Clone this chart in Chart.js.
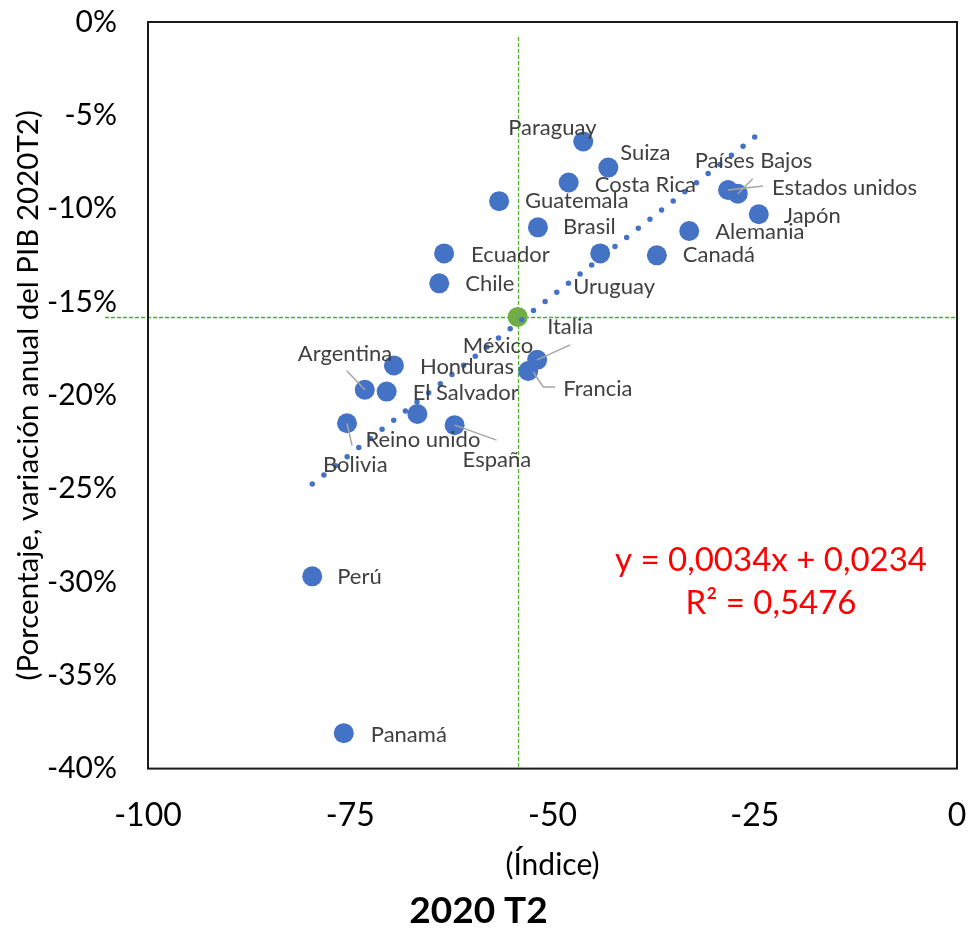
<!DOCTYPE html>
<html>
<head>
<meta charset="utf-8">
<script src="https://cdn.jsdelivr.net/npm/chart.js@4.4.1/dist/chart.umd.min.js"></script>
<style>
  html, body { margin: 0; padding: 0; background: #fff; }
  #wrap { width: 969px; height: 933px; }
</style>
</head>
<body>
<div id="wrap"><canvas id="chart" width="969" height="933"></canvas></div>
<script>
(function() {
    'use strict';

    // ===== Data =====
    const countries = ['Paraguay', 'Suiza', 'Costa Rica', 'Guatemala', 'Brasil', 'Países Bajos',
        'Estados unidos', 'Japón', 'Alemania', 'Canadá', 'Uruguay', 'Ecuador', 'Chile', 'México',
        'Italia', 'Francia', 'Honduras', 'Argentina', 'El Salvador', 'Reino unido', 'España',
        'Bolivia', 'Perú', 'Panamá'];
    const indexValues = [-46.2, -43.1, -48.0, -56.6, -51.8, -27.1, -28.3, -24.5, -33.1, -37.1, -44.1,
        -63.4, -64.0, -54.3, -51.9, -53.0, -69.6, -73.2, -70.5, -66.7, -62.1, -75.4, -79.7, -75.8];
    const gdpValues = [-6.4, -7.8, -8.6, -9.6, -11.0, -9.2, -9.0, -10.3, -11.2, -12.5, -12.4,
        -12.4, -14.0, -15.8, -18.1, -18.7, -18.4, -19.7, -19.8, -21.0, -21.6, -21.5, -29.7, -38.1];
    const xTicks = [-100, -75, -50, -25, 0];
    const yTicks = [0, -5, -10, -15, -20, -25, -30, -35, -40];
    const trendSlope = 0.0034;
    const trendIntercept = 0.0234;
    const trendR2 = 0.5476;
    const highlight = 'México';

    // ===== Label layout (px offsets from the marker) =====
    const labelPos = {
        'Paraguay': [-75, -14], 'Suiza': [12, -15], 'Costa Rica': [26, 2], 'Guatemala': [26, 0],
        'Brasil': [25, 0], 'Países Bajos': [-43, -33], 'Estados unidos': [44, -2], 'Japón': [25, 2],
        'Alemania': [26, 1], 'Canadá': [26, 0], 'Uruguay': [-27, 33], 'Ecuador': [27, 1],
        'Chile': [26, 1], 'México': [-55, 29], 'Italia': [10, -33], 'Francia': [35, 18],
        'Honduras': [26, 1], 'Argentina': [-67, -36], 'El Salvador': [26, 1], 'Reino unido': [-52, 26],
        'España': [8, 35], 'Bolivia': [-24, 42], 'Perú': [25, 1], 'Panamá': [27, 2]
    };
    const leaders = {
        'Italia': [[0, 0], [33, -15]],
        'Francia': [[5, 1], [15, 16], [27, 16]],
        'Argentina': [[0, 0], [-18, -19]],
        'España': [[0, 0], [42, 15]],
        'Bolivia': [[0, 0], [5, 22]],
        'Estados unidos': [[0, 0], [35, -4]],
        'Países Bajos': [[0, 0], [15, -15]]
    };

    const BLUE = '#4472C4';
    const GREEN = '#70AD47';
    const FONT = 'Lato, "Open Sans", sans-serif';

    const points = countries.map((c, i) => ({ x: indexValues[i], y: gdpValues[i], name: c }));
    const minX = Math.min(...indexValues);
    const maxX = Math.max(...indexValues);
    const trendY = x => (trendSlope * x + trendIntercept) * 100;
    const trendPoints = [{ x: minX, y: trendY(minX) }, { x: maxX, y: trendY(maxX) }];

    const fmt = v => v.toFixed(4).replace('.', ',');

    // no extra space for edge tick labels, layout padding decides the plot box
    function noEdgePadding(s) {
        s.paddingTop = 0;
        s.paddingBottom = 0;
        s.paddingLeft = 0;
        s.paddingRight = 0;
    }

    // ===== Plugin: box, crosshair, labels, equation =====
    const decor = {
        id: 'decor',
        beforeDatasetsDraw(chart) {
            const { ctx, chartArea: a, scales: { x, y } } = chart;
            const hi = countries.indexOf(highlight);
            const px = Math.round(x.getPixelForValue(indexValues[hi])) + 0.5;
            const py = Math.round(y.getPixelForValue(gdpValues[hi])) + 0.5;
            ctx.save();
            ctx.strokeStyle = '#4CB020';
            ctx.setLineDash([4, 2]);
            ctx.lineWidth = 1.2;
            ctx.beginPath();
            ctx.moveTo(px, a.top + 15);
            ctx.lineTo(px, a.bottom);
            ctx.stroke();
            ctx.lineWidth = 1.6;
            ctx.beginPath();
            ctx.moveTo(a.left - 43, py);
            ctx.lineTo(a.right, py);
            ctx.stroke();
            ctx.restore();
        },
        afterDraw(chart) {
            const { ctx, chartArea: a, scales: { x, y } } = chart;
            ctx.save();
            // plot box
            ctx.strokeStyle = '#1a1a1a';
            ctx.lineWidth = 2;
            ctx.strokeRect(a.left, a.top, a.right - a.left, a.bottom - a.top);

            // leader lines
            ctx.strokeStyle = '#A6A6A6';
            ctx.lineWidth = 1.5;
            countries.forEach((c, i) => {
                const l = leaders[c];
                if (!l) return;
                const px = x.getPixelForValue(indexValues[i]);
                const py = y.getPixelForValue(gdpValues[i]);
                ctx.beginPath();
                l.forEach((p, k) => k ? ctx.lineTo(px + p[0], py + p[1]) : ctx.moveTo(px + p[0], py + p[1]));
                ctx.stroke();
            });

            // data labels
            ctx.fillStyle = '#404040';
            ctx.font = '22px ' + FONT;
            ctx.textAlign = 'left';
            ctx.textBaseline = 'middle';
            countries.forEach((c, i) => {
                const off = labelPos[c] || [20, 0];
                const px = x.getPixelForValue(indexValues[i]);
                const py = y.getPixelForValue(gdpValues[i]);
                ctx.fillText(c, px + off[0], py + off[1]);
            });

            // trendline equation
            ctx.fillStyle = '#FF0000';
            ctx.font = '33px ' + FONT;
            ctx.textAlign = 'center';
            const ex = a.left + 623;
            ctx.fillText('y = ' + fmt(trendSlope) + 'x + ' + fmt(trendIntercept), ex, a.top + 538);
            ctx.fillText('R² = ' + fmt(trendR2), ex, a.top + 581);
            ctx.restore();
        }
    };

    // ===== Chart =====
    new Chart(document.getElementById('chart').getContext('2d'), {
        type: 'scatter',
        data: {
            datasets: [{
                label: 'Tendencia',
                data: trendPoints,
                showLine: true,
                borderColor: BLUE,
                borderWidth: 5.5,
                borderDash: [0, 14.8],
                borderCapStyle: 'round',
                pointRadius: 0,
                order: 0
            }, {
                label: 'Países',
                data: points,
                pointRadius: 10,
                pointHoverRadius: 10,
                pointBorderWidth: 0,
                pointBackgroundColor: points.map(p => p.name === highlight ? GREEN : BLUE),
                pointBorderColor: points.map(p => p.name === highlight ? GREEN : BLUE),
                order: 1
            }]
        },
        options: {
            responsive: false,
            animation: false,
            devicePixelRatio: 1,
            layout: { padding: { top: 22, right: 12, left: 0, bottom: 0 } },
            plugins: {
                legend: { display: false },
                tooltip: { enabled: false },
                title: {
                    display: true,
                    position: 'bottom',
                    text: '2020 T2',
                    color: '#000',
                    padding: 0,
                    font: { family: FONT, size: 37, weight: 'bold' }
                }
            },
            scales: {
                x: {
                    type: 'linear',
                    min: -100,
                    max: 0,
                    afterFit: s => { s.height = 120; noEdgePadding(s); },
                    afterBuildTicks: s => { s.ticks = xTicks.map(v => ({ value: v })); },
                    grid: { display: false, drawTicks: false },
                    border: { display: false },
                    ticks: { color: '#000', padding: 28, font: { family: FONT, size: 32 } },
                    title: {
                        display: true,
                        text: '(Índice)',
                        color: '#000',
                        padding: { top: 0, bottom: 5 },
                        font: { family: FONT, size: 30 }
                    }
                },
                y: {
                    type: 'linear',
                    min: -40,
                    max: 0,
                    afterFit: s => { s.width = 148; noEdgePadding(s); },
                    afterBuildTicks: s => { s.ticks = yTicks.map(v => ({ value: v })); },
                    grid: { display: false, drawTicks: false },
                    border: { display: false },
                    ticks: {
                        color: '#000',
                        padding: 31,
                        font: { family: FONT, size: 30 },
                        callback: v => v + '%'
                    },
                    title: {
                        display: true,
                        text: '(Porcentaje, variación anual del PIB 2020T2)',
                        color: '#000',
                        padding: { top: 11, bottom: 0 },
                        font: { family: FONT, size: 29.5 }
                    }
                }
            }
        },
        plugins: [decor]
    });
})();
</script>
</body>
</html>
